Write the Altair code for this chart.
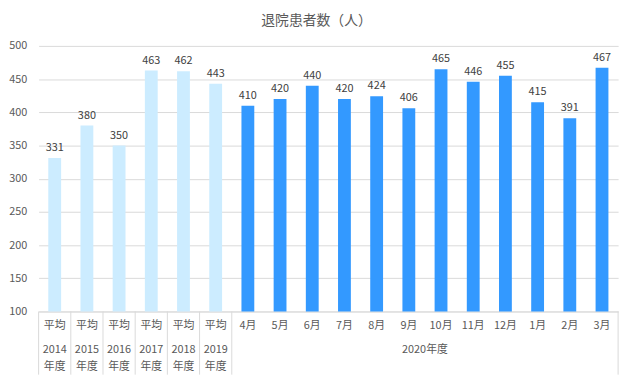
import altair as alt
import pandas as pd

top_labels = ["平均"] * 6 + ["4月", "5月", "6月", "7月", "8月", "9月", "10月", "11月", "12月", "1月", "2月", "3月"]
values = [331, 380, 350, 463, 462, 443, 410, 420, 440, 420, 424, 406, 465, 446, 455, 415, 391, 467]
groups = ["avg"] * 6 + ["month"] * 12
year_labels = ["2014\n年度", "2015\n年度", "2016\n年度", "2017\n年度", "2018\n年度", "2019\n年度"]
fiscal_label = "2020年度"
title_text = "退院患者数（人）"
y_ticks = [100, 150, 200, 250, 300, 350, 400, 450, 500]

keys = [f"{t}|{i}" for i, t in enumerate(top_labels)]
df = pd.DataFrame({"key": keys, "value": values, "group": groups, "base": [100] * len(keys)})
df_years = pd.DataFrame({"key": keys[:6], "text": year_labels})
df_fiscal = pd.DataFrame({"key": [keys[12]], "text": [fiscal_label]})
df_sep = pd.DataFrame({"key": keys[:7]})
df_end = pd.DataFrame({"key": [keys[-1]]})

W, H = 587, 269
FONT = "Noto Sans CJK JP"
GRAY = "#595959"
LINE = "#D9D9D9"

xscale = alt.Scale(domain=keys, paddingInner=0, paddingOuter=0)
yscale = alt.Scale(domain=[100, 500], zero=False, nice=False)

xaxis = alt.Axis(labelExpr="split(datum.label,'|')[0]", labelAngle=0,
                 labelColor=GRAY, labelFontSize=11, labelFont=FONT,
                 labelPadding=8, ticks=False, domainColor=LINE, grid=False, title=None)
yaxis = alt.Axis(values=y_ticks, labelColor=GRAY, labelFontSize=11,
                 labelOverlap=False, labelFont=FONT, labelPadding=12, ticks=False,
                 domain=False, gridColor=LINE, title=None)

bars = alt.Chart(df).mark_bar(size=13).encode(
    x=alt.X("key:N", scale=xscale, axis=xaxis, title=None),
    y=alt.Y("value:Q", scale=yscale, axis=yaxis, title=None),
    y2="base:Q",
    color=alt.Color("group:N", scale=alt.Scale(domain=["avg", "month"], range=["#CCECFF", "#3399FF"]),
                    legend=None),
)

labels = alt.Chart(df).mark_text(baseline="bottom", dy=-5, fontSize=11, font=FONT, color="#404040").encode(
    x=alt.X("key:N", scale=xscale, axis=xaxis, title=None),
    y=alt.Y("value:Q", scale=yscale, axis=yaxis, title=None),
    text="value:Q",
)

years = alt.Chart(df_years).mark_text(baseline="top", lineBreak="\n", lineHeight=17, fontSize=11,
                                       font=FONT, color=GRAY).encode(
    x=alt.X("key:N", scale=xscale, axis=xaxis, title=None),
    y=alt.value(H + 33),
    text="text:N",
)

fiscal = alt.Chart(df_fiscal).mark_text(baseline="top", fontSize=11, font=FONT, color=GRAY).encode(
    x=alt.X("key:N", scale=xscale, bandPosition=0, axis=xaxis, title=None),
    y=alt.value(H + 33),
    text="text:N",
)

sep = alt.Chart(df_sep).mark_rule(color=LINE).encode(
    x=alt.X("key:N", scale=xscale, bandPosition=0, axis=xaxis, title=None),
    y=alt.value(H),
    y2=alt.value(H + 64),
)

end = alt.Chart(df_end).mark_rule(color=LINE).encode(
    x=alt.X("key:N", scale=xscale, bandPosition=1, axis=xaxis, title=None),
    y=alt.value(H),
    y2=alt.value(H + 64),
)

chart = alt.layer(bars, labels, years, fiscal, sep, end).properties(
    width=W, height=H,
    title=alt.TitleParams(title_text, fontSize=14, font=FONT, color=GRAY, fontWeight="normal",
                          anchor="middle", dx=-12, offset=12),
    autosize=alt.AutoSizeParams(type="none"),
    padding={"left": 31, "top": 36, "right": 8, "bottom": 64},
).configure_view(stroke=None)

chart.save("out.html", embed_options={"renderer": "svg", "actions": False})
